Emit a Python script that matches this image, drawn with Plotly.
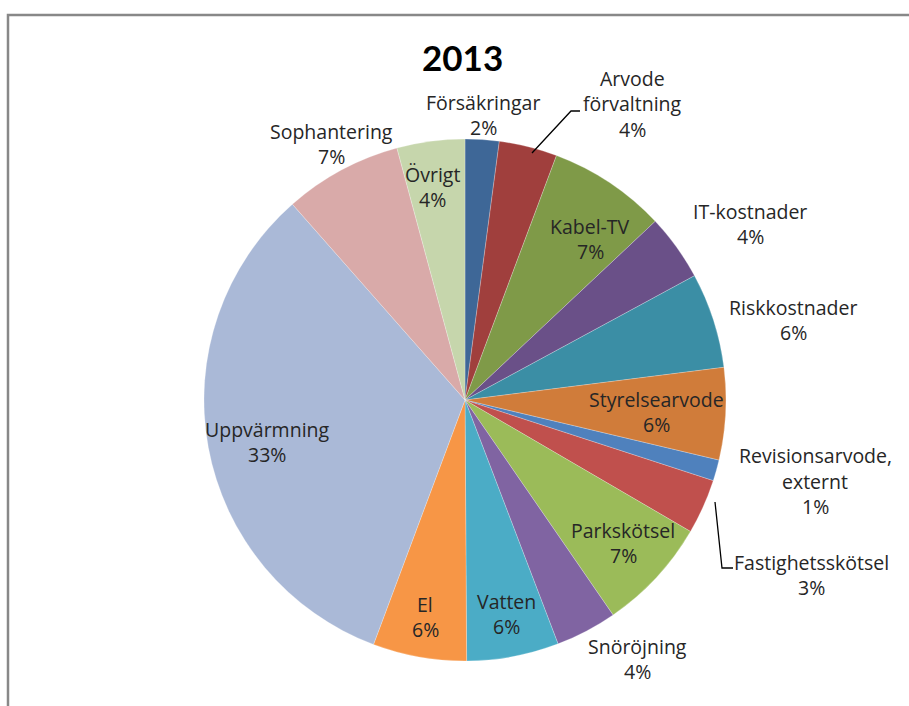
import plotly.graph_objects as go

# ---- data ----
categories = ["Försäkringar", "Arvode förvaltning", "Kabel-TV", "IT-kostnader",
              "Riskkostnader", "Styrelsearvode", "Revisionsarvode, externt",
              "Fastighetsskötsel", "Parkskötsel", "Snöröjning", "Vatten", "El",
              "Uppvärmning", "Sophantering", "Övrigt"]
shares = [2.1, 3.6, 7.3, 4.1, 5.9, 5.7, 1.3, 3.4, 7.0, 3.8, 5.7, 5.8, 32.8, 7.3, 4.2]
label_lines = [["Försäkringar"], ["Arvode", "förvaltning"], ["Kabel-TV"], ["IT-kostnader"],
               ["Riskkostnader"], ["Styrelsearvode"], ["Revisionsarvode,", "externt"],
               ["Fastighetsskötsel"], ["Parkskötsel"], ["Snöröjning"], ["Vatten"], ["El"],
               ["Uppvärmning"], ["Sophantering"], ["Övrigt"]]
title_text = "2013"

# ---- styles ----
colors = ["#3E6797", "#A03F3D", "#7F9A48", "#6A5088", "#3B8EA5", "#D07C3A",
          "#4F81BD", "#C0504D", "#9BBB59", "#8064A2", "#4BACC6", "#F79646",
          "#AAB9D7", "#D9AAA9", "#C6D6AC"]

W, H = 909, 706
cx, cy, r = 465, 400, 261
LINE = 25.5

# label block centre positions in pixels (layout)
label_pos = [(483, 115), (632, 104), (590, 239), (750, 224), (793, 320), (656, 412),
             (815, 481), (811, 575), (623, 543), (637, 659), (506, 614), (425, 617),
             (267, 442), (331, 144), (432, 187)]

fig = go.Figure(go.Pie(
    labels=categories, values=shares, sort=False, direction="clockwise", rotation=0,
    marker=dict(colors=colors, line=dict(color="rgba(255,255,255,0.4)", width=0.6)),
    textinfo="none", hoverinfo="label+percent", showlegend=False,
    domain=dict(x=[(cx - r) / W, (cx + r) / W], y=[1 - (cy + r) / H, 1 - (cy - r) / H]),
))

total = sum(shares)
annotations = []
for lines, v, (px, py) in zip(label_lines, shares, label_pos):
    all_lines = lines + [f"{round(v / total * 100)}%"]
    n = len(all_lines)
    for i, t in enumerate(all_lines):
        ly = py + (i - (n - 1) / 2) * LINE
        annotations.append(dict(
            x=px / W, y=1 - ly / H, xref="paper", yref="paper", text=t, showarrow=False,
            xanchor="center", yanchor="middle", align="center",
            font=dict(family="Open Sans", size=19.5, color="#262626")))

annotations.append(dict(
    x=462 / W, y=1 - 57 / H, xref="paper", yref="paper", text=f"<b>{title_text}</b>",
    showarrow=False, xanchor="center", yanchor="middle",
    font=dict(family="Lato", size=35, color="#000000")))

def P(x, y):
    return f"{x / W:.5f} {1 - y / H:.5f}"

shapes = [
    # chart frame
    dict(type="path", xref="paper", yref="paper",
         path=f"M {P(8, 720)} L {P(8, 15)} L {P(930, 15)}",
         line=dict(color="#888888", width=2.5)),
    # leader lines
    dict(type="path", xref="paper", yref="paper",
         path=f"M {P(532, 153)} L {P(571, 111)} L {P(580, 111)}",
         line=dict(color="#000000", width=1.3)),
    dict(type="path", xref="paper", yref="paper",
         path=f"M {P(715, 502)} L {P(722, 568)} L {P(733, 568)}",
         line=dict(color="#000000", width=1.3)),
]

fig.update_layout(
    width=W, height=H, margin=dict(l=0, r=0, t=0, b=0),
    paper_bgcolor="white", plot_bgcolor="white",
    annotations=annotations, shapes=shapes,
)

fig.write_html("out.html")
